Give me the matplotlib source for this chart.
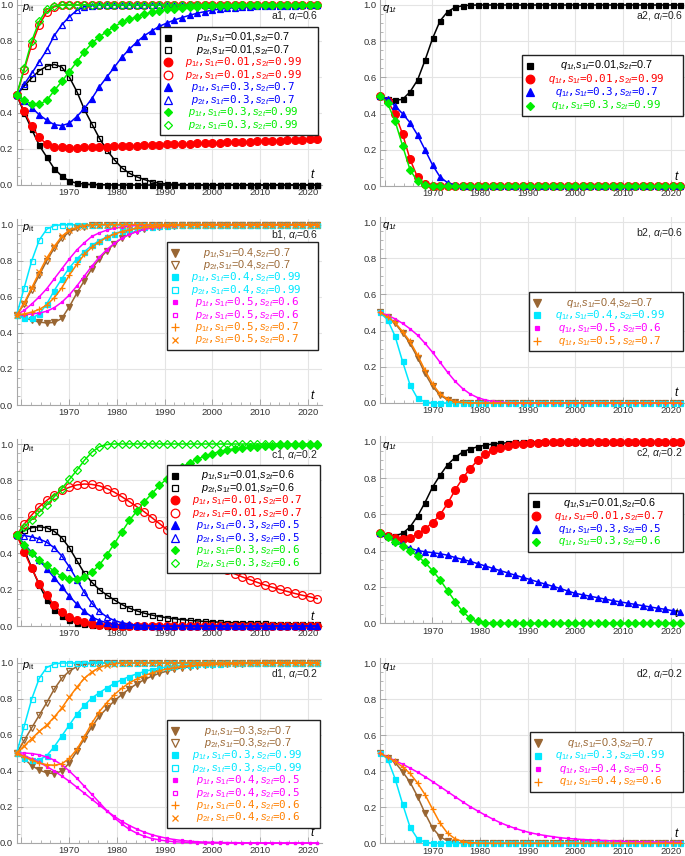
import numpy as np
import matplotlib
matplotlib.use("Agg")
import matplotlib.pyplot as plt
from matplotlib.lines import Line2D
from matplotlib.patches import Rectangle
from matplotlib.ticker import FixedLocator, MultipleLocator

plt.rcParams['mathtext.fontset'] = 'custom'
plt.rcParams['mathtext.rm'] = 'Liberation Sans'
plt.rcParams['mathtext.it'] = 'Liberation Sans:italic'
plt.rcParams['mathtext.bf'] = 'Liberation Sans:bold'
plt.rcParams['font.family'] = ['Liberation Sans', 'DejaVu Sans']

# ---------------- time grid (41 sample years) ----------------
YEARS = np.linspace(1959, 2022, 41)

# ---------------- panel a1 (alpha_i = 0.6) ----------------
A1_P1_BLACK = [0.500, 0.400, 0.310, 0.220, 0.155, 0.090, 0.050, 0.022, 0.010, 0.005,
               0.003, 0.002, 0.001, 0.000, 0.000, 0.000, 0.000, 0.000, 0.000, 0.000,
               0.000, 0.000, 0.000, 0.000, 0.000, 0.000, 0.000, 0.000, 0.000, 0.000,
               0.000, 0.000, 0.000, 0.000, 0.000, 0.000, 0.000, 0.000, 0.000, 0.000, 0.000]
A1_P2_BLACK = [0.500, 0.550, 0.595, 0.635, 0.660, 0.670, 0.655, 0.600, 0.520, 0.420,
               0.340, 0.260, 0.195, 0.140, 0.095, 0.065, 0.045, 0.030, 0.018, 0.010,
               0.006, 0.004, 0.002, 0.001, 0.000, 0.000, 0.000, 0.000, 0.000, 0.000,
               0.000, 0.000, 0.000, 0.000, 0.000, 0.000, 0.000, 0.000, 0.000, 0.000, 0.000]
A1_P1_RED = [0.500, 0.410, 0.325, 0.265, 0.225, 0.213, 0.209, 0.208, 0.208, 0.209,
             0.210, 0.211, 0.213, 0.214, 0.216, 0.217, 0.219, 0.220, 0.222, 0.223,
             0.225, 0.226, 0.228, 0.229, 0.231, 0.232, 0.234, 0.235, 0.237, 0.238,
             0.240, 0.241, 0.243, 0.244, 0.246, 0.247, 0.249, 0.250, 0.252, 0.253, 0.255]
A1_P2_RED = [0.500, 0.640, 0.780, 0.890, 0.960, 0.990, 1.000, 1.000, 1.000, 1.000,
             1.000, 1.000, 1.000, 1.000, 1.000, 1.000, 1.000, 1.000, 1.000, 1.000,
             1.000, 1.000, 1.000, 1.000, 1.000, 1.000, 1.000, 1.000, 1.000, 1.000,
             1.000, 1.000, 1.000, 1.000, 1.000, 1.000, 1.000, 1.000, 1.000, 1.000, 1.000]
A1_P1_BLUE = [0.500, 0.465, 0.430, 0.390, 0.360, 0.335, 0.330, 0.343, 0.380, 0.425,
              0.480, 0.545, 0.600, 0.655, 0.710, 0.755, 0.795, 0.830, 0.857, 0.882,
              0.900, 0.917, 0.930, 0.943, 0.954, 0.963, 0.971, 0.977, 0.982, 0.986,
              0.989, 0.991, 0.993, 0.994, 0.995, 0.996, 0.997, 0.997, 0.998, 0.998, 0.998]
A1_P2_BLUE = [0.500, 0.560, 0.620, 0.685, 0.750, 0.830, 0.890, 0.935, 0.970, 0.990,
              0.997, 1.000, 1.000, 1.000, 1.000, 1.000, 1.000, 1.000, 1.000, 1.000,
              1.000, 1.000, 1.000, 1.000, 1.000, 1.000, 1.000, 1.000, 1.000, 1.000,
              1.000, 1.000, 1.000, 1.000, 1.000, 1.000, 1.000, 1.000, 1.000, 1.000, 1.000]
A1_P1_GREEN = [0.500, 0.470, 0.452, 0.448, 0.470, 0.525, 0.575, 0.630, 0.685, 0.740,
               0.787, 0.824, 0.852, 0.880, 0.904, 0.920, 0.935, 0.950, 0.959, 0.968,
               0.976, 0.980, 0.984, 0.987, 0.990, 0.992, 0.994, 0.995, 0.996, 0.997,
               0.998, 0.998, 0.999, 0.999, 0.999, 1.000, 1.000, 1.000, 1.000, 1.000, 1.000]
A1_P2_GREEN = [0.500, 0.650, 0.800, 0.910, 0.975, 0.995, 1.000, 1.000, 1.000, 1.000,
               1.000, 1.000, 1.000, 1.000, 1.000, 1.000, 1.000, 1.000, 1.000, 1.000,
               1.000, 1.000, 1.000, 1.000, 1.000, 1.000, 1.000, 1.000, 1.000, 1.000,
               1.000, 1.000, 1.000, 1.000, 1.000, 1.000, 1.000, 1.000, 1.000, 1.000, 1.000]

# ---------------- panel a2 ----------------
A2_Q_BLACK = [0.500, 0.480, 0.475, 0.478, 0.520, 0.585, 0.695, 0.815, 0.912, 0.963,
              0.987, 0.996, 0.999, 1.000, 1.000, 1.000, 1.000, 1.000, 1.000, 1.000,
              1.000, 1.000, 1.000, 1.000, 1.000, 1.000, 1.000, 1.000, 1.000, 1.000,
              1.000, 1.000, 1.000, 1.000, 1.000, 1.000, 1.000, 1.000, 1.000, 1.000, 1.000]
A2_Q_RED = [0.500, 0.470, 0.400, 0.288, 0.148, 0.048, 0.011, 0.002, 0.000, 0.000,
            0.000, 0.000, 0.000, 0.000, 0.000, 0.000, 0.000, 0.000, 0.000, 0.000,
            0.000, 0.000, 0.000, 0.000, 0.000, 0.000, 0.000, 0.000, 0.000, 0.000,
            0.000, 0.000, 0.000, 0.000, 0.000, 0.000, 0.000, 0.000, 0.000, 0.000, 0.000]
A2_Q_BLUE = [0.500, 0.478, 0.442, 0.400, 0.350, 0.282, 0.200, 0.116, 0.050, 0.018,
             0.005, 0.001, 0.000, 0.000, 0.000, 0.000, 0.000, 0.000, 0.000, 0.000,
             0.000, 0.000, 0.000, 0.000, 0.000, 0.000, 0.000, 0.000, 0.000, 0.000,
             0.000, 0.000, 0.000, 0.000, 0.000, 0.000, 0.000, 0.000, 0.000, 0.000, 0.000]
A2_Q_GREEN = [0.500, 0.457, 0.360, 0.223, 0.090, 0.025, 0.005, 0.001, 0.000, 0.000,
              0.000, 0.000, 0.000, 0.000, 0.000, 0.000, 0.000, 0.000, 0.000, 0.000,
              0.000, 0.000, 0.000, 0.000, 0.000, 0.000, 0.000, 0.000, 0.000, 0.000,
              0.000, 0.000, 0.000, 0.000, 0.000, 0.000, 0.000, 0.000, 0.000, 0.000, 0.000]

# ---------------- panel b1 (alpha_i = 0.6) ----------------
B1_P1_BROWN = [0.500, 0.485, 0.470, 0.460, 0.455, 0.458, 0.480, 0.545, 0.620, 0.690,
               0.755, 0.810, 0.855, 0.895, 0.925, 0.948, 0.965, 0.977, 0.985, 0.990,
               0.993, 0.995, 0.996, 0.997, 0.998, 0.998, 0.999, 0.999, 0.999, 0.999,
               0.999, 0.999, 0.999, 0.999, 0.999, 0.999, 0.999, 0.999, 0.999, 0.999, 0.999]
B1_P2_BROWN = [0.500, 0.560, 0.640, 0.720, 0.800, 0.870, 0.925, 0.960, 0.980, 0.990,
               0.996, 1.000, 1.000, 1.000, 1.000, 1.000, 1.000, 1.000, 1.000, 1.000,
               1.000, 1.000, 1.000, 1.000, 1.000, 1.000, 1.000, 1.000, 1.000, 1.000,
               1.000, 1.000, 1.000, 1.000, 1.000, 1.000, 1.000, 1.000, 1.000, 1.000, 1.000]
B1_P1_CYAN = [0.500, 0.480, 0.480, 0.505, 0.560, 0.635, 0.700, 0.760, 0.810, 0.850,
              0.885, 0.912, 0.932, 0.950, 0.963, 0.973, 0.980, 0.986, 0.990, 0.993,
              0.995, 0.996, 0.997, 0.998, 0.998, 0.999, 0.999, 1.000, 1.000, 1.000,
              1.000, 1.000, 1.000, 1.000, 1.000, 1.000, 1.000, 1.000, 1.000, 1.000, 1.000]
B1_P2_CYAN = [0.500, 0.650, 0.800, 0.915, 0.975, 0.995, 1.000, 1.000, 1.000, 1.000,
              1.000, 1.000, 1.000, 1.000, 1.000, 1.000, 1.000, 1.000, 1.000, 1.000,
              1.000, 1.000, 1.000, 1.000, 1.000, 1.000, 1.000, 1.000, 1.000, 1.000,
              1.000, 1.000, 1.000, 1.000, 1.000, 1.000, 1.000, 1.000, 1.000, 1.000, 1.000]
B1_P1_MAGENTA = [0.500, 0.500, 0.505, 0.510, 0.520, 0.540, 0.570, 0.610, 0.660, 0.715,
                 0.770, 0.820, 0.862, 0.897, 0.925, 0.946, 0.962, 0.974, 0.982, 0.988,
                 0.992, 0.995, 0.997, 0.998, 0.999, 1.000, 1.000, 1.000, 1.000, 1.000,
                 1.000, 1.000, 1.000, 1.000, 1.000, 1.000, 1.000, 1.000, 1.000, 1.000, 1.000]
B1_P2_MAGENTA = [0.500, 0.525, 0.560, 0.600, 0.645, 0.700, 0.755, 0.810, 0.860, 0.900,
                 0.935, 0.955, 0.970, 0.980, 0.988, 0.993, 0.996, 0.998, 1.000, 1.000,
                 1.000, 1.000, 1.000, 1.000, 1.000, 1.000, 1.000, 1.000, 1.000, 1.000,
                 1.000, 1.000, 1.000, 1.000, 1.000, 1.000, 1.000, 1.000, 1.000, 1.000, 1.000]
B1_P1_ORANGE = [0.500, 0.505, 0.515, 0.530, 0.555, 0.595, 0.650, 0.720, 0.780, 0.835,
                0.875, 0.905, 0.930, 0.948, 0.962, 0.972, 0.980, 0.986, 0.990, 0.993,
                0.995, 0.996, 0.997, 0.998, 0.999, 1.000, 1.000, 1.000, 1.000, 1.000,
                1.000, 1.000, 1.000, 1.000, 1.000, 1.000, 1.000, 1.000, 1.000, 1.000, 1.000]
B1_P2_ORANGE = [0.500, 0.565, 0.650, 0.735, 0.815, 0.880, 0.935, 0.970, 0.985, 0.995,
                1.000, 1.000, 1.000, 1.000, 1.000, 1.000, 1.000, 1.000, 1.000, 1.000,
                1.000, 1.000, 1.000, 1.000, 1.000, 1.000, 1.000, 1.000, 1.000, 1.000,
                1.000, 1.000, 1.000, 1.000, 1.000, 1.000, 1.000, 1.000, 1.000, 1.000, 1.000]

# ---------------- panel b2 ----------------
B2_Q_BROWN = [0.500, 0.473, 0.440, 0.388, 0.329, 0.251, 0.163, 0.092, 0.043, 0.018,
              0.006, 0.002, 0.000, 0.000, 0.000, 0.000, 0.000, 0.000, 0.000, 0.000,
              0.000, 0.000, 0.000, 0.000, 0.000, 0.000, 0.000, 0.000, 0.000, 0.000,
              0.000, 0.000, 0.000, 0.000, 0.000, 0.000, 0.000, 0.000, 0.000, 0.000, 0.000]
B2_Q_CYAN = [0.500, 0.460, 0.370, 0.230, 0.100, 0.025, 0.006, 0.001, 0.000, 0.000,
             0.000, 0.000, 0.000, 0.000, 0.000, 0.000, 0.000, 0.000, 0.000, 0.000,
             0.000, 0.000, 0.000, 0.000, 0.000, 0.000, 0.000, 0.000, 0.000, 0.000,
             0.000, 0.000, 0.000, 0.000, 0.000, 0.000, 0.000, 0.000, 0.000, 0.000, 0.000]
B2_Q_MAGENTA = [0.500, 0.485, 0.465, 0.440, 0.410, 0.375, 0.330, 0.280, 0.225, 0.170,
                0.120, 0.080, 0.050, 0.030, 0.017, 0.009, 0.005, 0.002, 0.001, 0.000,
                0.000, 0.000, 0.000, 0.000, 0.000, 0.000, 0.000, 0.000, 0.000, 0.000,
                0.000, 0.000, 0.000, 0.000, 0.000, 0.000, 0.000, 0.000, 0.000, 0.000, 0.000]
B2_Q_ORANGE = [0.500, 0.475, 0.445, 0.395, 0.340, 0.265, 0.180, 0.105, 0.050, 0.022,
               0.008, 0.003, 0.001, 0.000, 0.000, 0.000, 0.000, 0.000, 0.000, 0.000,
               0.000, 0.000, 0.000, 0.000, 0.000, 0.000, 0.000, 0.000, 0.000, 0.000,
               0.000, 0.000, 0.000, 0.000, 0.000, 0.000, 0.000, 0.000, 0.000, 0.000, 0.000]

# ---------------- panel c1 (alpha_i = 0.2) ----------------
C1_P1_BLACK = [0.500, 0.420, 0.320, 0.225, 0.145, 0.090, 0.055, 0.033, 0.019, 0.011,
               0.006, 0.003, 0.002, 0.001, 0.000, 0.000, 0.000, 0.000, 0.000, 0.000,
               0.000, 0.000, 0.000, 0.000, 0.000, 0.000, 0.000, 0.000, 0.000, 0.000,
               0.000, 0.000, 0.000, 0.000, 0.000, 0.000, 0.000, 0.000, 0.000, 0.000, 0.000]
C1_P2_BLACK = [0.500, 0.525, 0.540, 0.545, 0.540, 0.520, 0.485, 0.430, 0.360, 0.290,
               0.240, 0.200, 0.170, 0.143, 0.118, 0.098, 0.083, 0.070, 0.060, 0.052,
               0.045, 0.040, 0.035, 0.031, 0.028, 0.025, 0.023, 0.021, 0.019, 0.018,
               0.017, 0.016, 0.015, 0.014, 0.013, 0.013, 0.012, 0.012, 0.011, 0.011, 0.010]
C1_P1_RED = [0.500, 0.407, 0.316, 0.233, 0.169, 0.114, 0.077, 0.050, 0.032, 0.020,
             0.012, 0.007, 0.004, 0.002, 0.001, 0.000, 0.000, 0.000, 0.000, 0.000,
             0.000, 0.000, 0.000, 0.000, 0.000, 0.000, 0.000, 0.000, 0.000, 0.000,
             0.000, 0.000, 0.000, 0.000, 0.000, 0.000, 0.000, 0.000, 0.000, 0.000, 0.000]
C1_P2_RED = [0.500, 0.560, 0.610, 0.655, 0.690, 0.720, 0.745, 0.762, 0.775, 0.780,
             0.778, 0.770, 0.755, 0.735, 0.710, 0.683, 0.655, 0.627, 0.595, 0.563,
             0.530, 0.498, 0.466, 0.436, 0.407, 0.379, 0.353, 0.329, 0.306, 0.287,
             0.270, 0.255, 0.240, 0.226, 0.213, 0.201, 0.190, 0.179, 0.169, 0.160, 0.150]
C1_P1_BLUE = [0.500, 0.450, 0.405, 0.360, 0.315, 0.265, 0.215, 0.165, 0.120, 0.080,
              0.050, 0.030, 0.018, 0.010, 0.005, 0.003, 0.001, 0.000, 0.000, 0.000,
              0.000, 0.000, 0.000, 0.000, 0.000, 0.000, 0.000, 0.000, 0.000, 0.000,
              0.000, 0.000, 0.000, 0.000, 0.000, 0.000, 0.000, 0.000, 0.000, 0.000, 0.000]
C1_P2_BLUE = [0.500, 0.497, 0.490, 0.478, 0.460, 0.430, 0.385, 0.325, 0.255, 0.185,
              0.125, 0.080, 0.050, 0.030, 0.018, 0.010, 0.005, 0.003, 0.001, 0.000,
              0.000, 0.000, 0.000, 0.000, 0.000, 0.000, 0.000, 0.000, 0.000, 0.000,
              0.000, 0.000, 0.000, 0.000, 0.000, 0.000, 0.000, 0.000, 0.000, 0.000, 0.000]
C1_P1_GREEN = [0.500, 0.445, 0.400, 0.362, 0.333, 0.300, 0.272, 0.260, 0.260, 0.270,
               0.295, 0.335, 0.390, 0.453, 0.517, 0.580, 0.632, 0.683, 0.728, 0.772,
               0.810, 0.845, 0.873, 0.897, 0.916, 0.933, 0.947, 0.958, 0.967, 0.974,
               0.979, 0.983, 0.986, 0.989, 0.991, 0.993, 0.994, 0.995, 0.996, 0.997, 0.997]
C1_P2_GREEN = [0.500, 0.545, 0.585, 0.625, 0.665, 0.710, 0.755, 0.805, 0.855, 0.910,
               0.955, 0.985, 0.997, 1.000, 1.000, 1.000, 1.000, 1.000, 1.000, 1.000,
               1.000, 1.000, 1.000, 1.000, 1.000, 1.000, 1.000, 1.000, 1.000, 1.000,
               1.000, 1.000, 1.000, 1.000, 1.000, 1.000, 1.000, 1.000, 1.000, 1.000, 1.000]

# ---------------- panel c2 ----------------
C2_Q_BLACK = [0.500, 0.485, 0.482, 0.495, 0.530, 0.590, 0.665, 0.750, 0.815, 0.873,
              0.913, 0.943, 0.960, 0.972, 0.981, 0.987, 0.991, 0.994, 0.996, 0.997,
              0.998, 0.999, 0.999, 1.000, 1.000, 1.000, 1.000, 1.000, 1.000, 1.000,
              1.000, 1.000, 1.000, 1.000, 1.000, 1.000, 1.000, 1.000, 1.000, 1.000, 1.000]
C2_Q_RED = [0.500, 0.478, 0.468, 0.466, 0.472, 0.490, 0.520, 0.555, 0.597, 0.660,
            0.733, 0.798, 0.852, 0.897, 0.930, 0.953, 0.968, 0.978, 0.985, 0.990,
            0.993, 0.995, 0.997, 0.998, 0.999, 1.000, 1.000, 1.000, 1.000, 1.000,
            1.000, 1.000, 1.000, 1.000, 1.000, 1.000, 1.000, 1.000, 1.000, 1.000, 1.000]
C2_Q_BLUE = [0.500, 0.478, 0.455, 0.435, 0.413, 0.401, 0.394, 0.389, 0.383, 0.375,
             0.362, 0.352, 0.341, 0.329, 0.316, 0.303, 0.290, 0.278, 0.265, 0.253,
             0.241, 0.228, 0.216, 0.204, 0.192, 0.178, 0.165, 0.157, 0.149, 0.141,
             0.133, 0.125, 0.118, 0.111, 0.104, 0.097, 0.090, 0.083, 0.077, 0.069, 0.061]
C2_Q_GREEN = [0.500, 0.475, 0.450, 0.428, 0.400, 0.370, 0.335, 0.290, 0.240, 0.180,
              0.120, 0.065, 0.028, 0.010, 0.003, 0.001, 0.000, 0.000, 0.000, 0.000,
              0.000, 0.000, 0.000, 0.000, 0.000, 0.000, 0.000, 0.000, 0.000, 0.000,
              0.000, 0.000, 0.000, 0.000, 0.000, 0.000, 0.000, 0.000, 0.000, 0.000, 0.000]

# ---------------- panel d1 (alpha_i = 0.2) ----------------
D1_P1_BROWN = [0.500, 0.468, 0.430, 0.405, 0.390, 0.385, 0.400, 0.445, 0.510, 0.580,
               0.645, 0.705, 0.748, 0.790, 0.825, 0.857, 0.885, 0.908, 0.927, 0.943,
               0.955, 0.965, 0.973, 0.979, 0.984, 0.988, 0.991, 0.993, 0.995, 0.996,
               0.997, 0.998, 0.998, 0.999, 0.999, 0.999, 1.000, 1.000, 1.000, 1.000, 1.000]
D1_P2_BROWN = [0.500, 0.570, 0.640, 0.710, 0.780, 0.855, 0.915, 0.955, 0.980, 0.993,
               0.998, 1.000, 1.000, 1.000, 1.000, 1.000, 1.000, 1.000, 1.000, 1.000,
               1.000, 1.000, 1.000, 1.000, 1.000, 1.000, 1.000, 1.000, 1.000, 1.000,
               1.000, 1.000, 1.000, 1.000, 1.000, 1.000, 1.000, 1.000, 1.000, 1.000, 1.000]
D1_P1_CYAN = [0.500, 0.475, 0.462, 0.462, 0.485, 0.535, 0.595, 0.655, 0.715, 0.765,
              0.805, 0.835, 0.862, 0.887, 0.907, 0.925, 0.940, 0.953, 0.963, 0.971,
              0.978, 0.983, 0.987, 0.990, 0.993, 0.995, 0.996, 0.997, 0.998, 0.998,
              0.999, 0.999, 0.999, 1.000, 1.000, 1.000, 1.000, 1.000, 1.000, 1.000, 1.000]
D1_P2_CYAN = [0.500, 0.650, 0.800, 0.915, 0.975, 0.995, 1.000, 1.000, 1.000, 1.000,
              1.000, 1.000, 1.000, 1.000, 1.000, 1.000, 1.000, 1.000, 1.000, 1.000,
              1.000, 1.000, 1.000, 1.000, 1.000, 1.000, 1.000, 1.000, 1.000, 1.000,
              1.000, 1.000, 1.000, 1.000, 1.000, 1.000, 1.000, 1.000, 1.000, 1.000, 1.000]
D1_P1_MAGENTA = [0.500, 0.485, 0.468, 0.448, 0.425, 0.400, 0.372, 0.343, 0.310, 0.277,
                 0.243, 0.210, 0.178, 0.148, 0.120, 0.097, 0.077, 0.060, 0.046, 0.035,
                 0.026, 0.019, 0.014, 0.010, 0.007, 0.005, 0.004, 0.003, 0.002, 0.002,
                 0.001, 0.001, 0.001, 0.000, 0.000, 0.000, 0.000, 0.000, 0.000, 0.000, 0.000]
D1_P2_MAGENTA = [0.500, 0.500, 0.497, 0.490, 0.478, 0.460, 0.435, 0.400, 0.360, 0.315,
                 0.270, 0.225, 0.180, 0.140, 0.105, 0.076, 0.054, 0.037, 0.025, 0.017,
                 0.011, 0.007, 0.005, 0.003, 0.002, 0.001, 0.001, 0.000, 0.000, 0.000,
                 0.000, 0.000, 0.000, 0.000, 0.000, 0.000, 0.000, 0.000, 0.000, 0.000, 0.000]
D1_P1_ORANGE = [0.500, 0.480, 0.460, 0.445, 0.435, 0.432, 0.440, 0.470, 0.520, 0.590,
                0.665, 0.730, 0.780, 0.825, 0.860, 0.890, 0.912, 0.930, 0.945, 0.957,
                0.967, 0.974, 0.980, 0.985, 0.988, 0.991, 0.993, 0.995, 0.996, 0.997,
                0.998, 0.998, 0.999, 0.999, 0.999, 1.000, 1.000, 1.000, 1.000, 1.000, 1.000]
D1_P2_ORANGE = [0.500, 0.540, 0.580, 0.620, 0.655, 0.700, 0.750, 0.810, 0.865, 0.915,
                0.950, 0.975, 0.988, 0.995, 1.000, 1.000, 1.000, 1.000, 1.000, 1.000,
                1.000, 1.000, 1.000, 1.000, 1.000, 1.000, 1.000, 1.000, 1.000, 1.000,
                1.000, 1.000, 1.000, 1.000, 1.000, 1.000, 1.000, 1.000, 1.000, 1.000, 1.000]

# ---------------- panel d2 ----------------
D2_Q_BROWN = [0.500, 0.475, 0.450, 0.398, 0.340, 0.260, 0.167, 0.085, 0.037, 0.013,
              0.004, 0.001, 0.000, 0.000, 0.000, 0.000, 0.000, 0.000, 0.000, 0.000,
              0.000, 0.000, 0.000, 0.000, 0.000, 0.000, 0.000, 0.000, 0.000, 0.000,
              0.000, 0.000, 0.000, 0.000, 0.000, 0.000, 0.000, 0.000, 0.000, 0.000, 0.000]
D2_Q_CYAN = [0.500, 0.470, 0.360, 0.220, 0.090, 0.025, 0.006, 0.001, 0.000, 0.000,
             0.000, 0.000, 0.000, 0.000, 0.000, 0.000, 0.000, 0.000, 0.000, 0.000,
             0.000, 0.000, 0.000, 0.000, 0.000, 0.000, 0.000, 0.000, 0.000, 0.000,
             0.000, 0.000, 0.000, 0.000, 0.000, 0.000, 0.000, 0.000, 0.000, 0.000, 0.000]
D2_Q_MAGENTA = [0.500, 0.480, 0.458, 0.440, 0.418, 0.395, 0.370, 0.343, 0.315, 0.287,
                0.259, 0.231, 0.204, 0.180, 0.157, 0.135, 0.115, 0.098, 0.083, 0.070,
                0.059, 0.050, 0.043, 0.037, 0.031, 0.027, 0.024, 0.021, 0.019, 0.017,
                0.015, 0.013, 0.011, 0.010, 0.009, 0.008, 0.007, 0.007, 0.006, 0.006, 0.005]
D2_Q_ORANGE = [0.500, 0.478, 0.455, 0.425, 0.388, 0.335, 0.270, 0.190, 0.112, 0.056,
               0.025, 0.010, 0.004, 0.001, 0.000, 0.000, 0.000, 0.000, 0.000, 0.000,
               0.000, 0.000, 0.000, 0.000, 0.000, 0.000, 0.000, 0.000, 0.000, 0.000,
               0.000, 0.000, 0.000, 0.000, 0.000, 0.000, 0.000, 0.000, 0.000, 0.000, 0.000]

# ---------------- styles ----------------
BLACK, RED, BLUE, GREEN = '#000000', '#ff0000', '#0000ff', '#00ee00'
BROWN, CYAN, MAGENTA, ORANGE = '#996633', '#00e8ff', '#ff00ff', '#ff8000'

STY = {
    'sq_f': ('s', 3.6, True), 'sq_o': ('s', 3.6, False),
    'ci_f': ('o', 5.6, True), 'ci_o': ('o', 5.6, False),
    'tr_f': ('^', 4.6, True), 'tr_o': ('^', 4.6, False),
    'di_f': ('D', 3.6, True), 'di_o': ('D', 3.6, False),
    'td_f': ('v', 4.6, True), 'td_o': ('v', 4.6, False),
    'ss_f': ('s', 2.0, True), 'ss_o': ('s', 2.0, False),
    'plus': ('+', 5.0, True), 'cross': ('x', 3.8, True),
}


def lab(v, s1, s2):
    return '$' + v + '$,$s_{1t}$=' + s1 + ',$s_{2t}$=' + s2


P1, P2, Q1 = 'p_{1t}', 'p_{2t}', 'q_{1t}'

PANELS = [
    dict(col=0, one=5, zero=185, ylab=r'$p_{\rm it}$', tag=r'a1, $\alpha_i$=0.6',
         box=(160, 27, 318, 135),
         series=[(A1_P1_BLACK, BLACK, 'sq_f', lab(P1, '0.01', '0.7'), False),
                 (A1_P2_BLACK, BLACK, 'sq_o', lab(P2, '0.01', '0.7'), False),
                 (A1_P1_RED, RED, 'ci_f', lab(P1, '0.01', '0.99'), True),
                 (A1_P2_RED, RED, 'ci_o', lab(P2, '0.01', '0.99'), True),
                 (A1_P1_BLUE, BLUE, 'tr_f', lab(P1, '0.3', '0.7'), True),
                 (A1_P2_BLUE, BLUE, 'tr_o', lab(P2, '0.3', '0.7'), True),
                 (A1_P1_GREEN, GREEN, 'di_f', lab(P1, '0.3', '0.99'), True),
                 (A1_P2_GREEN, GREEN, 'di_o', lab(P2, '0.3', '0.99'), True)]),
    dict(col=1, one=5, zero=186, ylab=r'$q_{1t}$', tag=r'a2, $\alpha_i$=0.6',
         box=(522, 55, 683, 116),
         series=[(A2_Q_BLACK, BLACK, 'sq_f', lab(Q1, '0.01', '0.7'), False),
                 (A2_Q_RED, RED, 'ci_f', lab(Q1, '0.01', '0.99'), True),
                 (A2_Q_BLUE, BLUE, 'tr_f', lab(Q1, '0.3', '0.7'), True),
                 (A2_Q_GREEN, GREEN, 'di_f', lab(Q1, '0.3', '0.99'), True)]),
    dict(col=0, one=224.7, zero=405, ylab=r'$p_{\rm it}$', tag=r'b1, $\alpha_i$=0.6',
         box=(167, 242, 318, 350),
         series=[(B1_P1_BROWN, BROWN, 'td_f', lab(P1, '0.4', '0.7'), False),
                 (B1_P2_BROWN, BROWN, 'td_o', lab(P2, '0.4', '0.7'), False),
                 (B1_P1_CYAN, CYAN, 'sq_f', lab(P1, '0.4', '0.99'), True),
                 (B1_P2_CYAN, CYAN, 'sq_o', lab(P2, '0.4', '0.99'), True),
                 (B1_P1_MAGENTA, MAGENTA, 'ss_f', lab(P1, '0.5', '0.6'), True),
                 (B1_P2_MAGENTA, MAGENTA, 'ss_o', lab(P2, '0.5', '0.6'), True),
                 (B1_P1_ORANGE, ORANGE, 'plus', lab(P1, '0.5', '0.7'), True),
                 (B1_P2_ORANGE, ORANGE, 'cross', lab(P2, '0.5', '0.7'), True)]),
    dict(col=1, one=222, zero=403, ylab=r'$q_{1t}$', tag=r'b2, $\alpha_i$=0.6',
         box=(529, 292, 683, 351),
         series=[(B2_Q_BROWN, BROWN, 'td_f', lab(Q1, '0.4', '0.7'), False),
                 (B2_Q_CYAN, CYAN, 'sq_f', lab(Q1, '0.4', '0.99'), True),
                 (B2_Q_MAGENTA, MAGENTA, 'ss_f', lab(Q1, '0.5', '0.6'), True),
                 (B2_Q_ORANGE, ORANGE, 'plus', lab(Q1, '0.5', '0.7'), True)]),
    dict(col=0, one=444, zero=626, ylab=r'$p_{\rm it}$', tag=r'c1, $\alpha_i$=0.2',
         box=(167, 465, 320, 573),
         series=[(C1_P1_BLACK, BLACK, 'sq_f', lab(P1, '0.01', '0.6'), False),
                 (C1_P2_BLACK, BLACK, 'sq_o', lab(P2, '0.01', '0.6'), False),
                 (C1_P1_RED, RED, 'ci_f', lab(P1, '0.01', '0.7'), True),
                 (C1_P2_RED, RED, 'ci_o', lab(P2, '0.01', '0.7'), True),
                 (C1_P1_BLUE, BLUE, 'tr_f', lab(P1, '0.3', '0.5'), True),
                 (C1_P2_BLUE, BLUE, 'tr_o', lab(P2, '0.3', '0.5'), True),
                 (C1_P1_GREEN, GREEN, 'di_f', lab(P1, '0.3', '0.6'), True),
                 (C1_P2_GREEN, GREEN, 'di_o', lab(P2, '0.3', '0.6'), True)]),
    dict(col=1, one=441.7, zero=623.3, ylab=r'$q_{1t}$', tag=r'c2, $\alpha_i$=0.2',
         box=(528, 493, 683, 552),
         series=[(C2_Q_BLACK, BLACK, 'sq_f', lab(Q1, '0.01', '0.6'), False),
                 (C2_Q_RED, RED, 'ci_f', lab(Q1, '0.01', '0.7'), True),
                 (C2_Q_BLUE, BLUE, 'tr_f', lab(Q1, '0.3', '0.5'), True),
                 (C2_Q_GREEN, GREEN, 'di_f', lab(Q1, '0.3', '0.6'), True)]),
    dict(col=0, one=663, zero=843, ylab=r'$p_{\rm it}$', tag=r'd1, $\alpha_i$=0.2',
         box=(167, 720, 320, 828),
         series=[(D1_P1_BROWN, BROWN, 'td_f', lab(P1, '0.3', '0.7'), False),
                 (D1_P2_BROWN, BROWN, 'td_o', lab(P2, '0.3', '0.7'), False),
                 (D1_P1_CYAN, CYAN, 'sq_f', lab(P1, '0.3', '0.99'), True),
                 (D1_P2_CYAN, CYAN, 'sq_o', lab(P2, '0.3', '0.99'), True),
                 (D1_P1_MAGENTA, MAGENTA, 'ss_f', lab(P1, '0.4', '0.5'), True),
                 (D1_P2_MAGENTA, MAGENTA, 'ss_o', lab(P2, '0.4', '0.5'), True),
                 (D1_P1_ORANGE, ORANGE, 'plus', lab(P1, '0.4', '0.6'), True),
                 (D1_P2_ORANGE, ORANGE, 'cross', lab(P2, '0.4', '0.6'), True)]),
    dict(col=1, one=663.3, zero=843.3, ylab=r'$q_{1t}$', tag=r'd2, $\alpha_i$=0.2',
         box=(530, 732, 683, 792),
         series=[(D2_Q_BROWN, BROWN, 'td_f', lab(Q1, '0.3', '0.7'), False),
                 (D2_Q_CYAN, CYAN, 'sq_f', lab(Q1, '0.3', '0.99'), True),
                 (D2_Q_MAGENTA, MAGENTA, 'ss_f', lab(Q1, '0.4', '0.5'), True),
                 (D2_Q_ORANGE, ORANGE, 'plus', lab(Q1, '0.4', '0.6'), True)]),
]

W, H = 685, 856
fig = plt.figure(figsize=(W / 100, H / 100), dpi=100)
fig.patch.set_facecolor('white')


def fx(x):
    return x / W


def fy(y):
    return 1 - y / H


XL = 1959.0
XR = 2023.0
COLX = {0: (16.7, 322.0), 1: (380.0, 685.0)}
TOPPAD = 0.03
GRID = '#e4e4e4'
AXC = '#a8a8a8'
LEG_FS = 7.8

for pnl in PANELS:
    x0, x1 = COLX[pnl['col']]
    one, zero = pnl['one'], pnl['zero']
    top = one - TOPPAD * (zero - one)
    ax = fig.add_axes([fx(x0), fy(zero), (x1 - x0) / W, (zero - top) / H])
    ax.set_xlim(XL, XR)
    ax.set_ylim(0, 1 + TOPPAD)
    ax.set_facecolor('none')
    for s in ('top', 'right'):
        ax.spines[s].set_visible(False)
    for s in ('left', 'bottom'):
        ax.spines[s].set_color(AXC)
        ax.spines[s].set_linewidth(0.8)
    ax.xaxis.set_major_locator(FixedLocator([1960, 1970, 1980, 1990, 2000, 2010, 2020]))
    ax.set_xticklabels(['', '1970', '1980', '1990', '2000', '2010', '2020'])
    ax.xaxis.set_minor_locator(FixedLocator(list(range(1960, 2023, 2))))
    ax.yaxis.set_major_locator(FixedLocator([0, 0.2, 0.4, 0.6, 0.8, 1.0]))
    ax.set_yticklabels(['0.0', '0.2', '0.4', '0.6', '0.8', '1.0'])
    ax.yaxis.set_minor_locator(MultipleLocator(0.05))
    ax.tick_params(which='major', direction='in', length=4, width=0.7, color=AXC,
                   labelsize=6.8, labelcolor='#333333', pad=2.5)
    ax.tick_params(which='minor', direction='in', length=2, width=0.6, color=AXC)
    ax.grid(True, which='major', color=GRID, lw=0.8)
    ax.set_axisbelow(True)

    for vals, col, sk, label, mono in pnl['series']:
        assert len(vals) == len(YEARS)
        mk, ms, filled = STY[sk]
        ax.plot(YEARS, vals, color=col, lw=1.1, marker=mk, ms=ms,
                mfc=col if filled else 'none', mec=col, mew=0.9,
                clip_on=False, zorder=3)

    # in-plot annotations
    if pnl['col'] == 0:
        fig.text(fx(x0 + 5), fy(one + 3.5), pnl['ylab'], fontsize=8, ha='left', va='center')
        fig.text(fx(318), fy(one + 11), pnl['tag'], fontsize=7.5, ha='right', va='center', color='#222222')
        fig.text(fx(313), fy(zero - 10), '$t$', fontsize=8.5, ha='center', va='center')
    else:
        fig.text(fx(x0 + 2), fy(one + 4), pnl['ylab'], fontsize=8, ha='left', va='center')
        fig.text(fx(683), fy(one + 11), pnl['tag'], fontsize=7.5, ha='right', va='center', color='#222222')
        fig.text(fx(677), fy(zero - 10), '$t$', fontsize=8.5, ha='center', va='center')

    # legend box
    bx0, by0, bx1, by1 = pnl['box']
    fig.add_artist(Rectangle((fx(bx0), fy(by1)), (bx1 - bx0) / W, (by1 - by0) / H,
                             transform=fig.transFigure, facecolor='white',
                             edgecolor='#222222', lw=1.0, zorder=5))
    n = len(pnl['series'])
    pad = 10.5
    step = (by1 - by0 - 2 * pad) / (n - 1)
    for i, (vals, col, sk, label, mono) in enumerate(pnl['series']):
        mk, ms, filled = STY[sk]
        yc = by0 + pad + i * step
        fig.add_artist(Line2D([fx(bx0 + 7.5)], [fy(yc)], transform=fig.transFigure,
                              marker=mk, ms=ms + 0.6, ls='none', color=col,
                              mfc=col if filled else 'none', mec=col, mew=0.9, zorder=6))
        fam = ['DejaVu Sans Mono'] if mono else ['Liberation Sans']
        fig.text(fx((bx0 + bx1) / 2 + 4), fy(yc), label, color=col, fontsize=LEG_FS,
                 family=fam, ha='center', va='center', zorder=7)

fig.savefig('out.png', dpi=100, facecolor='white')
